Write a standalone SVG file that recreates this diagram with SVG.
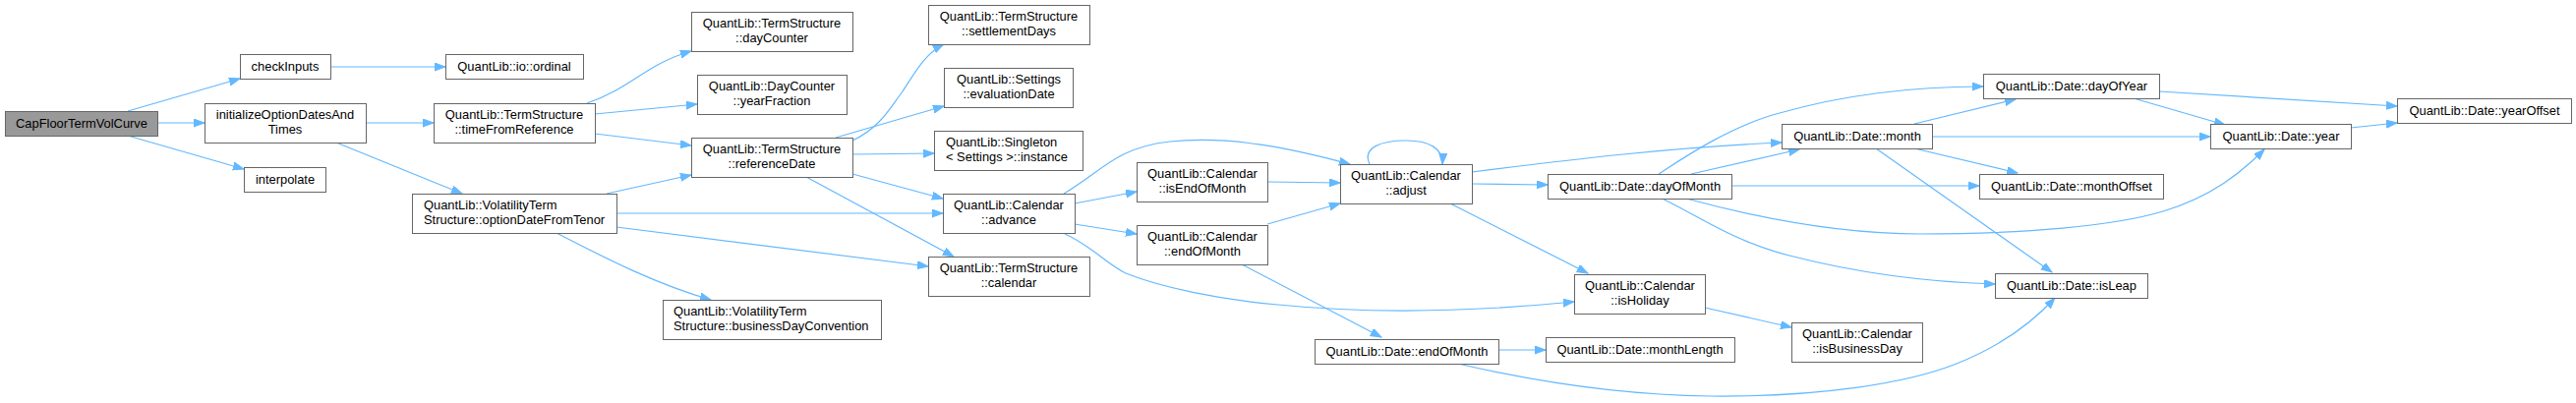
<svg xmlns="http://www.w3.org/2000/svg" width="2620" height="410" viewBox="0 0 2620 410">
<style>
.n rect{fill:#ffffff;stroke:#666666;stroke-width:1}
.n.root rect{fill:#999999}
.n text{font-family:"Liberation Sans",Arial,sans-serif;font-size:12.9px;fill:#000000;text-anchor:middle}
.n text.l{text-anchor:start}
#edges path{fill:none;stroke:#63b8ff;stroke-width:1.2;marker-end:url(#arr)}
</style>
<defs>
<marker id="arr" markerUnits="userSpaceOnUse" markerWidth="12" markerHeight="10" refX="11" refY="4" orient="auto">
<path d="M0,0 L11,4 L0,8 z" fill="#63b8ff" stroke="#63b8ff" stroke-width="1"/>
</marker>
</defs>
<rect width="2620" height="410" fill="#ffffff"/>
<g id="edges">
<path d="M130,113 L244,80"/>
<path d="M160,125 L208,125"/>
<path d="M130,138 L248,172"/>
<path d="M336,68 L453,68"/>
<path d="M372,125 L441,125"/>
<path d="M342,145 L470,197"/>
<path d="M597,105 C645,88 655,66 703,52"/>
<path d="M605,116 L709,106"/>
<path d="M605,136 L703,148"/>
<path d="M617,197 L703,178"/>
<path d="M627,217 L959,217"/>
<path d="M627,231 L944,271"/>
<path d="M566,237 C620,265 670,290 723,305"/>
<path d="M867,143 C895,130 905,110 918,93 C930,75 940,55 960,45"/>
<path d="M850,140 L960,108"/>
<path d="M867,157 L950,156"/>
<path d="M867,177 L959,202"/>
<path d="M820,180 L970,261"/>
<path d="M1093,207 L1156,195"/>
<path d="M1093,228 L1156,238"/>
<path d="M1082,197 C1120,175 1135,150 1190,144 C1250,138 1310,150 1373,167"/>
<path d="M1083,238 C1110,250 1125,268 1145,278 C1180,292 1240,305 1300,310 C1400,320 1500,317 1601,307"/>
<path d="M1289,185 L1363,186"/>
<path d="M1289,228 L1363,207"/>
<path d="M1263,269 L1405,343"/>
<path d="M1393,167 C1385,150 1405,143 1430,143 C1455,143 1468,152 1467,167"/>
<path d="M1497,175 C1600,162 1700,150 1812,145"/>
<path d="M1497,187 L1574,188"/>
<path d="M1475,207 L1615,278"/>
<path d="M1720,177 L1830,152"/>
<path d="M1687,177 C1710,162 1760,128 1810,115 C1870,98 1940,88 2017,88"/>
<path d="M1761,189 L2013,189"/>
<path d="M1715,202 C1800,225 1880,238 1953,238 C2060,238 2150,230 2200,215 C2250,200 2280,175 2303,152"/>
<path d="M1690,202 C1720,215 1760,245 1820,260 C1890,278 1960,287 2029,289"/>
<path d="M1947,126 L2050,101"/>
<path d="M1965,139 L2248,139"/>
<path d="M1947,151 L2052,176"/>
<path d="M1908,151 L2087,277"/>
<path d="M2170,100 L2263,127"/>
<path d="M2196,93 L2438,108"/>
<path d="M2391,130 L2438,125"/>
<path d="M1734,313 L1822,333"/>
<path d="M1524,356 L1572,356"/>
<path d="M1483,370 C1560,388 1650,402 1740,403 C1850,404 1940,390 1990,370 C2040,350 2070,325 2090,303"/>
</g>
<g id="n_capfloor" class="n root"><rect x="5.5" y="113.5" width="155" height="25"/><text x="83" y="130">CapFloorTermVolCurve</text></g>
<g id="n_checkInputs" class="n"><rect x="244.5" y="55.5" width="92" height="25"/><text x="290" y="72">checkInputs</text></g>
<g id="n_initialize" class="n"><rect x="208.5" y="105.5" width="164" height="40"/><text x="290" y="121">initializeOptionDatesAnd</text><text x="290" y="136">Times</text></g>
<g id="n_interpolate" class="n"><rect x="248.5" y="170.5" width="83" height="25"/><text x="290" y="187">interpolate</text></g>
<g id="n_ordinal" class="n"><rect x="453.5" y="55.5" width="140" height="25"/><text x="523" y="72">QuantLib::io::ordinal</text></g>
<g id="n_timeFromReference" class="n"><rect x="441.5" y="105.5" width="164" height="40"/><text x="523" y="121">QuantLib::TermStructure</text><text x="523" y="136">::timeFromReference</text></g>
<g id="n_optionDateFromTenor" class="n"><rect x="419.5" y="197.5" width="208" height="40"/><text class="l" x="431" y="213">QuantLib::VolatilityTerm</text><text class="l" x="431" y="228">Structure::optionDateFromTenor</text></g>
<g id="n_dayCounter" class="n"><rect x="703.5" y="12.5" width="164" height="40"/><text x="785" y="28">QuantLib::TermStructure</text><text x="785" y="43">::dayCounter</text></g>
<g id="n_yearFraction" class="n"><rect x="709.5" y="76.5" width="152" height="40"/><text x="785" y="92">QuantLib::DayCounter</text><text x="785" y="107">::yearFraction</text></g>
<g id="n_referenceDate" class="n"><rect x="703.5" y="140.5" width="164" height="40"/><text x="785" y="156">QuantLib::TermStructure</text><text x="785" y="171">::referenceDate</text></g>
<g id="n_businessDayConvention" class="n"><rect x="674.5" y="305.5" width="222" height="40"/><text class="l" x="685" y="321">QuantLib::VolatilityTerm</text><text class="l" x="685" y="336">Structure::businessDayConvention</text></g>
<g id="n_settlementDays" class="n"><rect x="944.5" y="5.5" width="164" height="40"/><text x="1026" y="21">QuantLib::TermStructure</text><text x="1026" y="36">::settlementDays</text></g>
<g id="n_evaluationDate" class="n"><rect x="960.5" y="69.5" width="131" height="40"/><text x="1026" y="85">QuantLib::Settings</text><text x="1026" y="100">::evaluationDate</text></g>
<g id="n_instance" class="n"><rect x="950.5" y="133.5" width="151" height="40"/><text class="l" x="962" y="149">QuantLib::Singleton</text><text class="l" x="962" y="164">&lt; Settings &gt;::instance</text></g>
<g id="n_advance" class="n"><rect x="959.5" y="197.5" width="134" height="40"/><text x="1026" y="213">QuantLib::Calendar</text><text x="1026" y="228">::advance</text></g>
<g id="n_calendar" class="n"><rect x="944.5" y="261.5" width="164" height="40"/><text x="1026" y="277">QuantLib::TermStructure</text><text x="1026" y="292">::calendar</text></g>
<g id="n_isEndOfMonth" class="n"><rect x="1156.5" y="165.5" width="133" height="40"/><text x="1223" y="181">QuantLib::Calendar</text><text x="1223" y="196">::isEndOfMonth</text></g>
<g id="n_calEndOfMonth" class="n"><rect x="1156.5" y="229.5" width="133" height="40"/><text x="1223" y="245">QuantLib::Calendar</text><text x="1223" y="260">::endOfMonth</text></g>
<g id="n_adjust" class="n"><rect x="1363.5" y="167.5" width="134" height="40"/><text x="1430" y="183">QuantLib::Calendar</text><text x="1430" y="198">::adjust</text></g>
<g id="n_dayOfMonth" class="n"><rect x="1574.5" y="177.5" width="187" height="25"/><text x="1668" y="194">QuantLib::Date::dayOfMonth</text></g>
<g id="n_isHoliday" class="n"><rect x="1601.5" y="279.5" width="133" height="40"/><text x="1668" y="295">QuantLib::Calendar</text><text x="1668" y="310">::isHoliday</text></g>
<g id="n_dateEndOfMonth" class="n"><rect x="1337.5" y="345.5" width="187" height="25"/><text x="1431" y="362">QuantLib::Date::endOfMonth</text></g>
<g id="n_monthLength" class="n"><rect x="1572.5" y="343.5" width="192" height="25"/><text x="1668" y="360">QuantLib::Date::monthLength</text></g>
<g id="n_isBusinessDay" class="n"><rect x="1822.5" y="328.5" width="133" height="40"/><text x="1889" y="344">QuantLib::Calendar</text><text x="1889" y="359">::isBusinessDay</text></g>
<g id="n_month" class="n"><rect x="1812.5" y="126.5" width="153" height="25"/><text x="1889" y="143">QuantLib::Date::month</text></g>
<g id="n_dayOfYear" class="n"><rect x="2017.5" y="75.5" width="179" height="25"/><text x="2107" y="92">QuantLib::Date::dayOfYear</text></g>
<g id="n_monthOffset" class="n"><rect x="2013.5" y="177.5" width="187" height="25"/><text x="2107" y="194">QuantLib::Date::monthOffset</text></g>
<g id="n_isLeap" class="n"><rect x="2029.5" y="278.5" width="155" height="25"/><text x="2107" y="295">QuantLib::Date::isLeap</text></g>
<g id="n_year" class="n"><rect x="2248.5" y="126.5" width="143" height="25"/><text x="2320" y="143">QuantLib::Date::year</text></g>
<g id="n_yearOffset" class="n"><rect x="2438.5" y="100.5" width="177" height="25"/><text x="2527" y="117">QuantLib::Date::yearOffset</text></g>
</svg>
